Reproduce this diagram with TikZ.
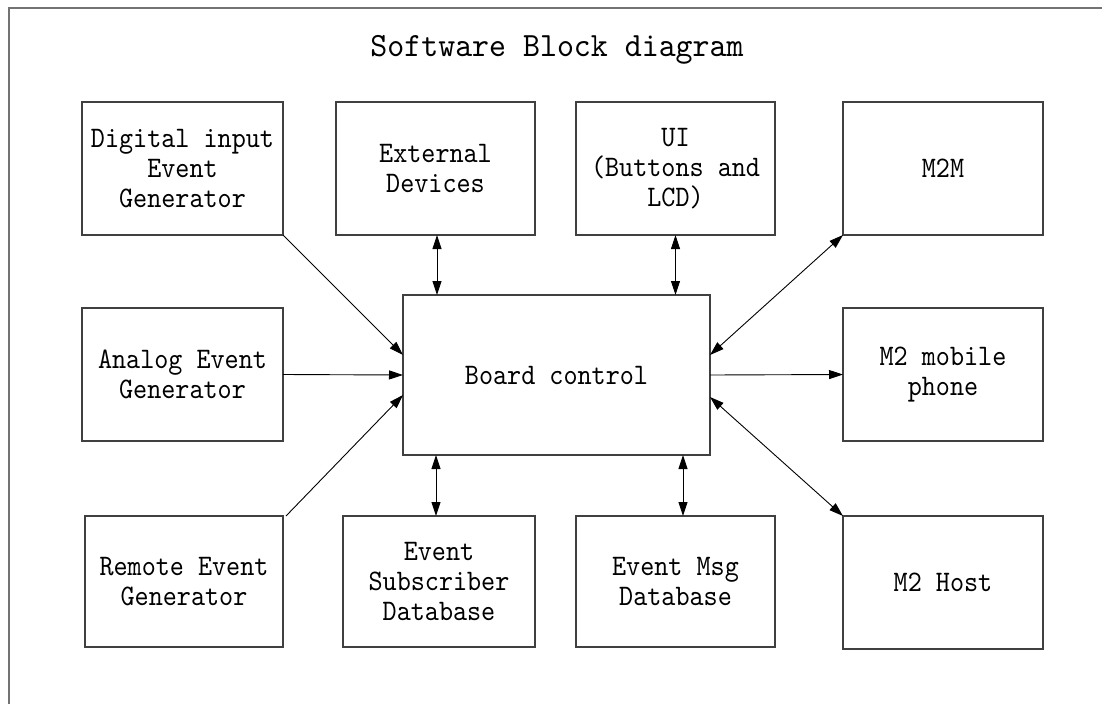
\documentclass[tikz,border=0pt]{standalone}
\usepackage{fontspec}
\newfontfamily\boxfont[FakeStretch=0.9]{lmmono10-regular.otf}
\newfontfamily\titlefont[FakeStretch=0.95]{lmmono10-regular.otf}
\usetikzlibrary{arrows.meta,calc}
\tikzset{
  blk/.style={draw=black!75, line width=1.1pt, rectangle, inner sep=0pt, outer sep=0pt,
    align=center, font=\boxfont\fontsize{29.8}{30}\selectfont},
  conn/.style={draw=black, line width=0.9pt, -{Triangle[length=14pt,width=9pt]}},
  bconn/.style={draw=black, line width=0.9pt, {Triangle[length=14pt,width=9pt]}-{Triangle[length=14pt,width=9pt]}},
  frame/.style={draw=black!55, line width=1.3pt}
}
\begin{document}
\begin{tikzpicture}[x=1pt,y=-1pt]
\useasboundingbox (0,0) rectangle (1102,704);
\draw[frame] (1102,8) -- (9,8) -- (9,704);
\node[font=\titlefont\fontsize{34}{36}\selectfont] (title) at (557,50) {Software Block diagram};
% top row
\node[blk, minimum width=201pt, minimum height=133pt] (dig) at (182.5,168.5) {Digital input\\Event\\Generator};
\node[blk, minimum width=199pt, minimum height=133pt] (ext) at (435.5,168.5) {External\\Devices};
\node[blk, minimum width=199pt, minimum height=133pt] (ui) at (675.5,168.5) {UI\\(Buttons and\\LCD)};
\node[blk, minimum width=200pt, minimum height=133pt] (m2m) at (943,168.5) {M2M};
% middle row
\node[blk, minimum width=201pt, minimum height=133pt] (ana) at (182.5,374.5) {Analog Event\\Generator};
\node[blk, minimum width=307pt, minimum height=160pt] (board) at (556.5,375) {Board control};
\node[blk, minimum width=200pt, minimum height=133pt] (mob) at (943,374.5) {M2 mobile\\phone};
% bottom row
\node[blk, minimum width=198pt, minimum height=131pt] (rem) at (184,581.5) {Remote Event\\Generator};
\node[blk, minimum width=192pt, minimum height=131pt] (sub) at (439,581.5) {Event\\Subscriber\\Database};
\node[blk, minimum width=199pt, minimum height=131pt] (msg) at (675.5,581.5) {Event Msg\\Database};
\node[blk, minimum width=200pt, minimum height=133pt] (host) at (943,582.5) {M2 Host};
% connectors
\draw[conn] (dig.south east) -- ([yshift=20pt]board.west);
\draw[conn] (ana.east) -- (board.west);
\draw[conn] ([xshift=3pt]rem.north east) -- ([yshift=-20pt]board.west);
\draw[bconn] ([xshift=1.5pt]ext.south) -- ([xshift=1.5pt]ext.south |- board.north);
\draw[bconn] (ui.south) -- (ui.south |- board.north);
\draw[bconn] ([yshift=20pt]board.east) -- (m2m.south west);
\draw[conn] (board.east) -- (mob.west);
\draw[bconn] ([yshift=-22pt]board.east) -- (host.north west);
\draw[bconn] ([xshift=-3pt]sub.north |- board.south) -- ([xshift=-3pt]sub.north);
\draw[bconn] ([xshift=7.5pt]msg.north |- board.south) -- ([xshift=7.5pt]msg.north);
\end{tikzpicture}
\end{document}
